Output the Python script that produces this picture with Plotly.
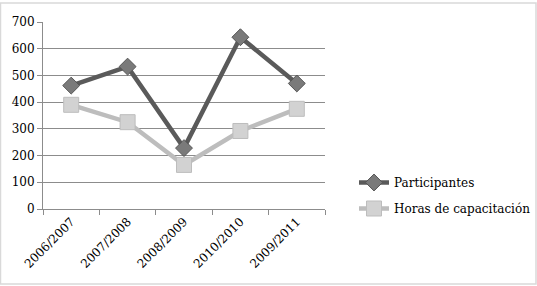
import plotly.graph_objects as go

categories = ["2006/2007", "2007/2008", "2008/2009", "2010/2010", "2009/2011"]
participantes = [462, 533, 228, 643, 470]
horas = [390, 325, 165, 292, 375]
y_ticks = [0, 100, 200, 300, 400, 500, 600, 700]

W, H = 537, 286
L, R, T, B = 43, 212, 22, 77
pw, ph = W - L - R, H - T - B
FONT = "DejaVu Serif"

def px_x(x):
    return (x - L) / pw

def px_y(y):
    return (H - B - y) / ph

fig = go.Figure()
fig.add_trace(go.Scatter(
    x=categories, y=participantes, name="Participantes", mode="lines+markers",
    legendgroup="a",
    line=dict(color="#5a5a5a", width=4.5),
    marker=dict(symbol="diamond", size=13, color="#7a7a7a", line=dict(color="#555555", width=1)),
))
fig.add_trace(go.Scatter(
    x=categories, y=horas, name="Horas de capacitación", mode="lines+markers",
    legendgroup="b",
    line=dict(color="#bdbdbd", width=4.5),
    marker=dict(symbol="square", size=15, color="#d2d2d2", line=dict(color="#bdbdbd", width=1)),
))

fig.update_layout(
    width=W, height=H,
    margin=dict(l=L, r=R, t=T, b=B, autoexpand=False),
    paper_bgcolor="white", plot_bgcolor="white",
    font=dict(family=FONT, size=12, color="black"),
    showlegend=True,
    legend=dict(x=px_x(354), y=px_y(168), xanchor="left", yanchor="top",
                font=dict(family=FONT, size=12),
                tracegroupgap=7, itemwidth=30,
                bgcolor="rgba(0,0,0,0)"),
    xaxis=dict(
        type="category", range=[-0.5, 4.5], showgrid=False, automargin=False,
        showline=True, linecolor="#8c8c8c", linewidth=1,
        ticks="outside", ticklen=5, tickcolor="#8c8c8c",
        tickson="boundaries", tickangle=-45,
    ),
    yaxis=dict(
        range=[0, 700], tickvals=y_ticks, showgrid=True, gridcolor="#8c8c8c", gridwidth=1,
        showline=True, linecolor="#8c8c8c", linewidth=1, automargin=False,
        ticks="outside", ticklen=5, tickcolor="#8c8c8c", zeroline=False,
    ),
    shapes=[dict(type="rect", xref="paper", yref="paper",
                 x0=px_x(0.5), x1=px_x(536), y0=px_y(284), y1=px_y(3),
                 line=dict(color="#d9d9d9", width=1.5), layer="below")],
)

fig.write_html("out.html")
